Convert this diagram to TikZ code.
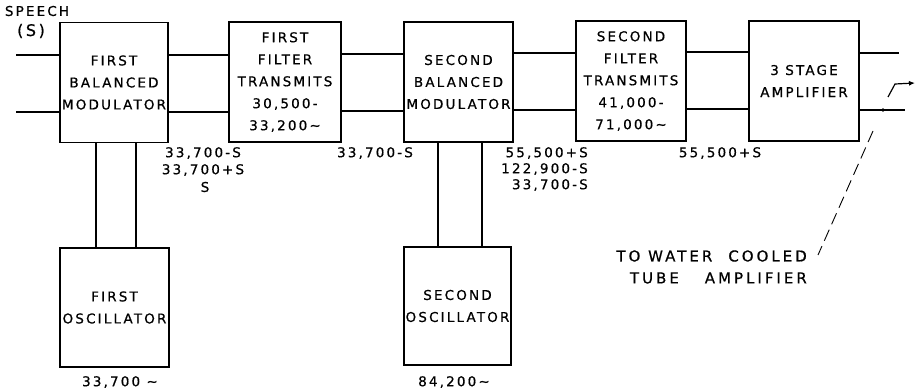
\documentclass[tikz,border=0pt]{standalone}
\usepackage{fontspec}
\setmainfont{DejaVu Sans}[LetterSpace=16, FakeBold=0.6]
\usetikzlibrary{arrows.meta}
\tikzset{
  blk/.style={draw, line width=1.2pt, minimum width=#1, minimum height=120pt, inner sep=0pt, align=center,
    font=\fontsize{13.5}{22}\selectfont},
  blk/.default=109pt,
  lbl/.style={inner sep=0pt, font=\fontsize{13.5}{16}\selectfont},
  wire/.style={line width=1.2pt},
}
\begin{document}
\begin{tikzpicture}[x=1pt,y=-1pt]
\useasboundingbox (0,0) rectangle (916,388);
% main chain
\node[blk=108pt] (m1) at (114,82.5) {FIRST\\BALANCED\\MODULATOR};
\node[blk=112pt] (f1) at (285,82) {FIRST\\FILTER\\TRANSMITS\\30,500-\\33,200\textasciitilde};
\node[blk=109pt] (m2) at (458.5,82) {SECOND\\BALANCED\\MODULATOR};
\node[blk=110pt] (f2) at (631,81) {SECOND\\FILTER\\TRANSMITS\\41,000-\\71,000\textasciitilde};
\node[blk=110pt] (amp) at (804,81) {3 STAGE\\AMPLIFIER};
% oscillators
\node[blk=109pt, minimum height=119pt] (o1) at (114.5,307.5) {FIRST\\OSCILLATOR};
\node[blk=107pt, minimum height=118pt] (o2) at (457.5,306) {SECOND\\OSCILLATOR};
% input coordinates
\coordinate (inU) at (16,55);
\coordinate (inL) at (16,112);
\coordinate (outU) at (899,53);
\coordinate (outL) at (905,110);
% wires
\draw[wire] (inU) -- (m1.west |- inU);
\draw[wire] (inL) -- (m1.west |- inL);
\draw[wire] (m1.east |- 0,55) -- (f1.west |- 0,55);
\draw[wire] (m1.east |- 0,112) -- (f1.west |- 0,112);
\draw[wire] (f1.east |- 0,54) -- (m2.west |- 0,54);
\draw[wire] (f1.east |- 0,111) -- (m2.west |- 0,111);
\draw[wire] (m2.east |- 0,53) -- (f2.west |- 0,53);
\draw[wire] (m2.east |- 0,110) -- (f2.west |- 0,110);
\draw[wire] (f2.east |- 0,52) -- (amp.west |- 0,52);
\draw[wire] (f2.east |- 0,109) -- (amp.west |- 0,109);
\draw[wire] (amp.east |- outU) -- (outU);
\draw[wire] (amp.east |- outL) -- (outL);
\fill (883,110) circle (1.8pt);
% oscillator links
\draw[wire] (m1.south -| 96,0) -- (o1.north -| 96,0);
\draw[wire] (m1.south -| 136,0) -- (o1.north -| 136,0);
\draw[wire] (m2.south -| 438,0) -- (o2.north -| 438,0);
\draw[wire] (m2.south -| 482,0) -- (o2.north -| 482,0);
% output squiggle
\coordinate (sqA) at (888,97);
\coordinate (sqB) at (895,84);
\coordinate (sqC) at (915,83);
\draw[wire, -{Latex[length=6pt,width=5pt]}] (sqA) -- (sqB) -- (sqC);
% leader to tube amplifier
\coordinate (ldA) at (873,131);
\coordinate (ldB) at (818,255);
\draw[line width=0.9pt, dash pattern=on 12pt off 6pt] (ldA) -- (ldB);
% labels
\node[lbl] (sp) at (37,11) {SPEECH};
\node[lbl, font=\fontsize{16}{16}\selectfont] (s) at (31,31) {(S)};
\node[lbl] (a1) at (203,153) {33,700-S};
\node[lbl] (a2) at (203,170) {33,700+S};
\node[lbl] (a3) at (205,187) {S};
\node[lbl] (b1) at (375,153) {33,700-S};
\node[lbl, anchor=east] (c1) at (588,153) {55,500+S};
\node[lbl, anchor=east] (c2) at (588,169) {122,900-S};
\node[lbl, anchor=east] (c3) at (588,185) {33,700-S};
\node[lbl] (d1) at (720,153) {55,500+S};
\node[lbl] (e1) at (120,382) {33,700 \textasciitilde};
\node[lbl] (e2) at (454,382) {84,200\textasciitilde};
\node[lbl, anchor=east, font=\fontsize{15}{16}\selectfont\addfontfeatures{LetterSpace=20}] (t1) at (807,256) {TO WATER\hspace{16pt}COOLED};
\node[lbl, anchor=east, font=\fontsize{15}{16}\selectfont\addfontfeatures{LetterSpace=20}] (t2) at (807,278) {TUBE\hspace{26pt}AMPLIFIER};
\end{tikzpicture}
\end{document}
